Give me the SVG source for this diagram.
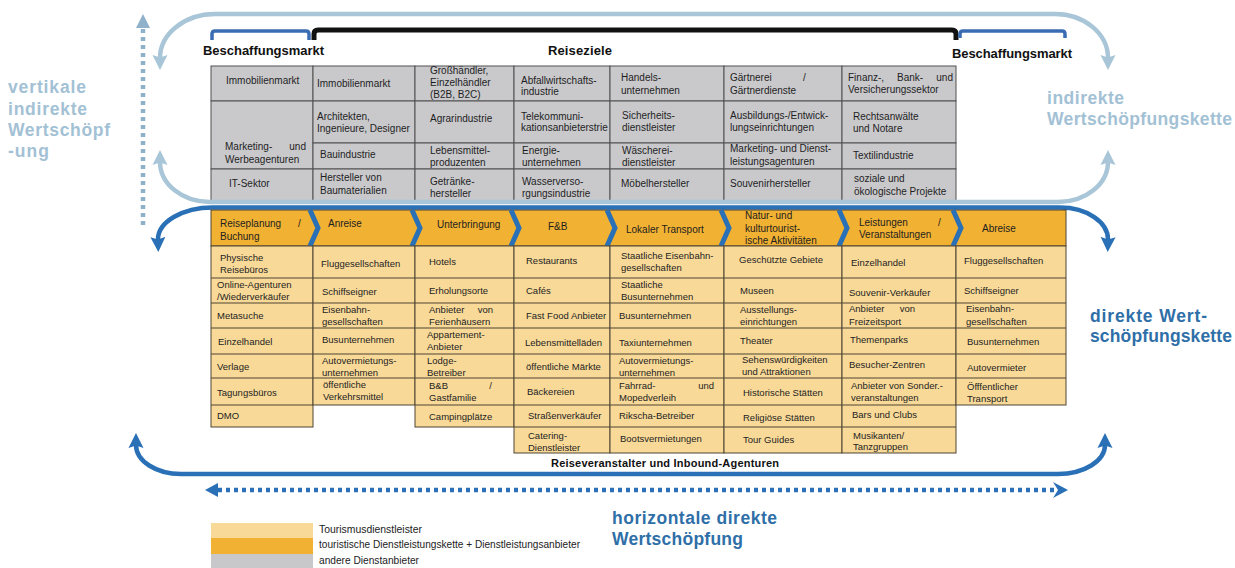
<svg xmlns="http://www.w3.org/2000/svg" width="1235" height="568" viewBox="0 0 1235 568">
<defs>
<style>
.gc{fill:#c9c9cc;stroke:#505050;stroke-width:1}
.lc{fill:#f8d998;stroke:#4e4434;stroke-width:1}
.ln{fill:none;stroke:#4e4434;stroke-width:1}
.t{font-family:"Liberation Sans",Arial,sans-serif;font-size:10px;fill:#1e1e1e}
.o{font-family:"Liberation Sans",Arial,sans-serif;font-size:9.5px;fill:#1e1e1e}
.h{font-family:"Liberation Sans",Arial,sans-serif;font-weight:bold;font-size:13px;fill:#111}
.big{font-family:"Liberation Sans",Arial,sans-serif;font-weight:bold;font-size:17.5px}
.lb{fill:#a3c1d5}
.db{fill:#2f6fa8}
.e{text-anchor:end}
.lbl{fill:none;stroke:#a9c5d8;stroke-width:4.5}
.dbl{fill:none;stroke:#2a70b6;stroke-width:4.5}
.chev{fill:none;stroke:#2a70b6;stroke-width:5;stroke-linejoin:miter}
.lg{font-family:"Liberation Sans",Arial,sans-serif;font-size:11px;fill:#222}
</style>
<marker id="aL" markerUnits="userSpaceOnUse" markerWidth="16" markerHeight="16" viewBox="0 0 16 16" refX="3" refY="8" orient="auto-start-reverse"><path d="M0,0.5 L15,8 L0,15.5 L2.5,8 Z" fill="#a9c5d8"/></marker>
<marker id="aD" markerUnits="userSpaceOnUse" markerWidth="16" markerHeight="16" viewBox="0 0 16 16" refX="3" refY="8" orient="auto-start-reverse"><path d="M0,0.5 L15,8 L0,15.5 L2.5,8 Z" fill="#2a70b6"/></marker>
</defs>
<rect width="1235" height="568" fill="#ffffff"/>

<!-- gray table: Beschaffungsmarkt / Reiseziele -->
<g id="gray-col1">
<rect class="gc" x="211" y="66" width="102" height="35"/>
<rect class="gc" x="211" y="101" width="102" height="68"/>
<rect class="gc" x="211" y="169" width="102" height="34"/>
<text class="t" x="226" y="84">Immobilienmarkt</text>
<text class="t" x="225" y="150">Marketing-</text><text class="t e" x="306" y="150">und</text>
<text class="t" x="225" y="163">Werbeagenturen</text>
<text class="t" x="229" y="187">IT-Sektor</text>
</g>
<g id="gray-col2">
<rect class="gc" x="313" y="66" width="102" height="35"/>
<rect class="gc" x="313" y="101" width="102" height="42"/>
<rect class="gc" x="313" y="143" width="102" height="26"/>
<rect class="gc" x="313" y="169" width="102" height="34"/>
<text class="t" x="317" y="87">Immobilienmarkt</text>
<text class="t" x="317" y="120">Architekten,</text>
<text class="t" x="317" y="131.5">Ingenieure, Designer</text>
<text class="t" x="320" y="158">Bauindustrie</text>
<text class="t" x="320" y="181">Hersteller von</text>
<text class="t" x="320" y="193.5">Baumaterialien</text>
</g>
<g id="gray-col3">
<rect class="gc" x="415" y="66" width="99" height="35"/>
<rect class="gc" x="415" y="101" width="99" height="42"/>
<rect class="gc" x="415" y="143" width="99" height="26"/>
<rect class="gc" x="415" y="169" width="99" height="34"/>
<text class="t" x="430" y="73.5">Großhändler,</text>
<text class="t" x="430" y="85.5">Einzelhändler</text>
<text class="t" x="430" y="97.5">(B2B, B2C)</text>
<text class="t" x="430" y="122">Agrarindustrie</text>
<text class="t" x="430" y="153.5">Lebensmittel-</text>
<text class="t" x="430" y="165.5">produzenten</text>
<text class="t" x="430" y="185">Getränke-</text>
<text class="t" x="430" y="196.5">hersteller</text>
</g>
<g id="gray-col4">
<rect class="gc" x="514" y="66" width="96" height="35"/>
<rect class="gc" x="514" y="101" width="96" height="42"/>
<rect class="gc" x="514" y="143" width="96" height="26"/>
<rect class="gc" x="514" y="169" width="96" height="34"/>
<text class="t" x="521" y="83.5">Abfallwirtschafts-</text>
<text class="t" x="521" y="94.5">industrie</text>
<text class="t" x="521" y="119.5">Telekommuni-</text>
<text class="t" x="521" y="131">kationsanbieterstrie</text>
<text class="t" x="522" y="153.5">Energie-</text>
<text class="t" x="522" y="165.5">unternehmen</text>
<text class="t" x="522" y="185">Wasserverso-</text>
<text class="t" x="522" y="196.5">rgungsindustrie</text>
</g>
<g id="gray-col5">
<rect class="gc" x="610" y="66" width="114" height="35"/>
<rect class="gc" x="610" y="101" width="114" height="42"/>
<rect class="gc" x="610" y="143" width="114" height="26"/>
<rect class="gc" x="610" y="169" width="114" height="34"/>
<text class="t" x="621" y="81">Handels-</text>
<text class="t" x="621" y="93.5">unternehmen</text>
<text class="t" x="622" y="118.5">Sicherheits-</text>
<text class="t" x="622" y="130.5">dienstleister</text>
<text class="t" x="622" y="153.5">Wäscherei-</text>
<text class="t" x="622" y="166">dienstleister</text>
<text class="t" x="621" y="187">Möbelhersteller</text>
</g>
<g id="gray-col6">
<rect class="gc" x="724" y="66" width="118" height="35"/>
<rect class="gc" x="724" y="101" width="118" height="42"/>
<rect class="gc" x="724" y="143" width="118" height="26"/>
<rect class="gc" x="724" y="169" width="118" height="34"/>
<text class="t" x="730" y="81">Gärtnerei</text><text class="t" x="803" y="81">/</text>
<text class="t" x="730" y="93.5">Gärtnerdienste</text>
<text class="t" x="730" y="118.5">Ausbildungs-/Entwick-</text>
<text class="t" x="730" y="131">lungseinrichtungen</text>
<text class="t" x="730" y="152">Marketing- und Dienst-</text>
<text class="t" x="730" y="164.5">leistungsagenturen</text>
<text class="t" x="730" y="187">Souvenirhersteller</text>
</g>
<g id="gray-col7">
<rect class="gc" x="842" y="66" width="114" height="35"/>
<rect class="gc" x="842" y="101" width="114" height="42"/>
<rect class="gc" x="842" y="143" width="114" height="26"/>
<rect class="gc" x="842" y="169" width="114" height="34"/>
<text class="t" x="848" y="81">Finanz-,</text><text class="t" x="897" y="81">Bank-</text><text class="t e" x="953" y="81">und</text>
<text class="t" x="848" y="93">Versicherungssektor</text>
<text class="t" x="853" y="120">Rechtsanwälte</text>
<text class="t" x="853" y="132">und Notare</text>
<text class="t" x="853" y="159">Textilindustrie</text>
<text class="t" x="854" y="182">soziale und</text>
<text class="t" x="854" y="194.5">ökologische Projekte</text>
</g>

<!-- headers and brackets -->
<g id="header-beschaffung-left">
<path d="M212,40 V34 Q212,31 215,31 H306 Q309,31 309,34 V40" fill="none" stroke="#3a6cb4" stroke-width="3.5"/>
<text class="h" x="203" y="55" textLength="121">Beschaffungsmarkt</text>
</g>
<g id="header-reiseziele">
<path d="M314,40 V34 Q314,30 318,30 H952 Q956,30 956,34 V40" fill="none" stroke="#111111" stroke-width="5"/>
<text class="h" x="548" y="55" textLength="64">Reiseziele</text>
</g>
<g id="header-beschaffung-right">
<path d="M960,38 V34 Q960,31 963,31 H1062 Q1065,31 1065,34 V38" fill="none" stroke="#3a6cb4" stroke-width="3.5"/>
<text class="h" x="952" y="58" textLength="120">Beschaffungsmarkt</text>
</g>

<!-- side labels -->
<g id="label-vertikal">
<text class="big lb" x="8" y="93" textLength="78">vertikale</text>
<text class="big lb" x="8" y="114.5" textLength="79">indirekte</text>
<text class="big lb" x="8" y="136" textLength="102">Wertschöpf</text>
<text class="big lb" x="8" y="157" textLength="41">-ung</text>
</g>
<g id="label-indirekt">
<text class="big lb" x="1047" y="104" textLength="77">indirekte</text>
<text class="big lb" x="1047" y="125" textLength="185">Wertschöpfungskette</text>
</g>
<g id="label-direkt">
<text class="big db" x="1090" y="322" textLength="117">direkte Wert-</text>
<text class="big db" x="1090" y="342" textLength="142">schöpfungskette</text>
</g>
<g id="label-horizontal">
<text class="big db" x="612" y="524" textLength="165">horizontale direkte</text>
<text class="big db" x="612" y="545" textLength="131">Wertschöpfung</text>
</g>

<!-- connectors -->
<g id="connectors">
<path class="lbl" d="M160,58 A55,44 0 0 1 215,14 H1055 A53,44 0 0 1 1108,58" marker-start="url(#aL)" marker-end="url(#aL)"/>
<path class="lbl" d="M160,162 A50,40 0 0 0 210,202 H1058 A50,40 0 0 0 1108,162" marker-start="url(#aL)" marker-end="url(#aL)"/>
<path class="dbl" d="M158,240 A55,32 0 0 1 213,207.5 H1060 A48,32 0 0 1 1108,240" marker-start="url(#aD)" marker-end="url(#aD)"/>
<path class="dbl" d="M136,445 A45,29 0 0 0 181,474 H1058 A47,29 0 0 0 1105,445" marker-start="url(#aD)" marker-end="url(#aD)"/>
<line x1="143" y1="225" x2="143" y2="29" stroke="#8fb1c9" stroke-width="4.5" stroke-dasharray="4 4"/>
<polygon points="143,14 136,28 150,28" fill="#8fb1c9"/>
<line x1="218" y1="490" x2="1054" y2="490" stroke="#2a70b6" stroke-width="4.5" stroke-dasharray="4 4"/>
<polygon points="205,490 218,483 218,497" fill="#2a70b6"/>
<polygon points="1053,482 1068,490 1053,498 1058,490" fill="#2a70b6"/>
</g>

<!-- value chain row -->
<g id="chain">
<rect x="211" y="210" width="855" height="36" fill="#f1b133" stroke="#4e4434" stroke-width="1"/>
<polyline class="chev" points="310,210 318,228 310,246"/>
<polyline class="chev" points="412,210 420,228 412,246"/>
<polyline class="chev" points="511,210 519,228 511,246"/>
<polyline class="chev" points="607,210 615,228 607,246"/>
<polyline class="chev" points="721,210 729,228 721,246"/>
<polyline class="chev" points="839,210 847,228 839,246"/>
<polyline class="chev" points="953,210 961,228 953,246"/>
<text class="t" x="220" y="227">Reiseplanung</text><text class="t" x="298" y="227">/</text>
<text class="t" x="220" y="239.5">Buchung</text>
<text class="t" x="328" y="227">Anreise</text>
<text class="t" x="437" y="228">Unterbringung</text>
<text class="t" x="548" y="230">F&amp;B</text>
<text class="t" x="626" y="233">Lokaler Transport</text>
<text class="t" x="745" y="219">Natur- und</text>
<text class="t" x="745" y="232">kulturtourist-</text>
<text class="t" x="745" y="244">ische Aktivitäten</text>
<text class="t" x="859" y="226">Leistungen</text><text class="t" x="938" y="226">/</text>
<text class="t" x="859" y="238">Veranstaltungen</text>
<text class="t" x="982" y="232">Abreise</text>
</g>

<!-- service provider columns -->
<g id="col-buchung">
<rect class="lc" x="211" y="246" width="102" height="181"/>
<path class="ln" d="M211,278H313M211,303H313M211,328H313M211,354H313M211,378H313M211,405H313"/>
<text class="o" x="220" y="260.5">Physische</text>
<text class="o" x="220" y="272.5">Reisebüros</text>
<text class="o" x="217" y="287.5">Online-Agenturen</text>
<text class="o" x="217" y="299.5">/Wiederverkäufer</text>
<text class="o" x="217" y="318.5">Metasuche</text>
<text class="o" x="218" y="344.5">Einzelhandel</text>
<text class="o" x="217" y="369.5">Verlage</text>
<text class="o" x="217" y="395.5">Tagungsbüros</text>
<text class="o" x="217" y="418.5">DMO</text>
</g>
<g id="col-anreise">
<rect class="lc" x="313" y="246" width="102" height="159"/>
<path class="ln" d="M313,278H415M313,303H415M313,328H415M313,354H415M313,378H415"/>
<text class="o" x="321" y="267">Fluggesellschaften</text>
<text class="o" x="322" y="295">Schiffseigner</text>
<text class="o" x="322" y="312.5">Eisenbahn-</text>
<text class="o" x="322" y="324.5">gesellschaften</text>
<text class="o" x="322" y="343">Busunternehmen</text>
<text class="o" x="322" y="363.5">Autovermietungs-</text>
<text class="o" x="322" y="375.5">unternehmen</text>
<text class="o" x="323" y="387.5">öffentliche</text>
<text class="o" x="323" y="399.5">Verkehrsmittel</text>
</g>
<g id="col-unterbringung">
<rect class="lc" x="415" y="246" width="99" height="181"/>
<path class="ln" d="M415,278H514M415,303H514M415,328H514M415,354H514M415,378H514M415,405H514"/>
<text class="o" x="429" y="265">Hotels</text>
<text class="o" x="429" y="294">Erholungsorte</text>
<text class="o" x="429" y="313">Anbieter</text><text class="o e" x="493" y="313">von</text>
<text class="o" x="429" y="325">Ferienhäusern</text>
<text class="o" x="427" y="338">Appartement-</text>
<text class="o" x="427" y="350">Anbieter</text>
<text class="o" x="427" y="363.5">Lodge-</text>
<text class="o" x="427" y="375.5">Betreiber</text>
<text class="o" x="429" y="388.5">B&amp;B</text><text class="o e" x="492" y="388.5">/</text>
<text class="o" x="429" y="400.5">Gastfamilie</text>
<text class="o" x="429" y="419.5">Campingplätze</text>
</g>
<g id="col-fb">
<rect class="lc" x="514" y="246" width="96" height="207"/>
<path class="ln" d="M514,278H610M514,303H610M514,328H610M514,354H610M514,378H610M514,405H610M514,427H610"/>
<text class="o" x="526" y="264">Restaurants</text>
<text class="o" x="526" y="293.5">Cafés</text>
<text class="o" x="526" y="318.5">Fast Food Anbieter</text>
<text class="o" x="525" y="346">Lebensmittelläden</text>
<text class="o" x="526" y="370">öffentliche Märkte</text>
<text class="o" x="527" y="395">Bäckereien</text>
<text class="o" x="528" y="418.5">Straßenverkäufer</text>
<text class="o" x="528" y="438.5">Catering-</text>
<text class="o" x="528" y="450.5">Dienstleister</text>
</g>
<g id="col-transport">
<rect class="lc" x="610" y="246" width="114" height="207"/>
<path class="ln" d="M610,278H724M610,303H724M610,328H724M610,354H724M610,378H724M610,405H724M610,427H724"/>
<text class="o" x="621" y="259">Staatliche Eisenbahn-</text>
<text class="o" x="621" y="271">gesellschaften</text>
<text class="o" x="621" y="288">Staatliche</text>
<text class="o" x="621" y="300">Busunternehmen</text>
<text class="o" x="619" y="318.5">Busunternehmen</text>
<text class="o" x="619" y="346">Taxiunternehmen</text>
<text class="o" x="619" y="363.5">Autovermietungs-</text>
<text class="o" x="619" y="375.5">unternehmen</text>
<text class="o" x="619" y="389">Fahrrad-</text><text class="o e" x="714" y="389">und</text>
<text class="o" x="619" y="401">Mopedverleih</text>
<text class="o" x="619" y="419">Rikscha-Betreiber</text>
<text class="o" x="620" y="441.5">Bootsvermietungen</text>
</g>
<g id="col-natur">
<rect class="lc" x="724" y="246" width="118" height="207"/>
<path class="ln" d="M724,278H842M724,303H842M724,328H842M724,354H842M724,378H842M724,405H842M724,427H842"/>
<text class="o" x="739" y="262.5">Geschützte Gebiete</text>
<text class="o" x="740" y="293.5">Museen</text>
<text class="o" x="740" y="312.5">Ausstellungs-</text>
<text class="o" x="740" y="324.5">einrichtungen</text>
<text class="o" x="740" y="344">Theater</text>
<text class="o" x="742" y="362.5">Sehenswürdigkeiten</text>
<text class="o" x="742" y="374.5">und Attraktionen</text>
<text class="o" x="743" y="395.5">Historische Stätten</text>
<text class="o" x="743" y="420.5">Religiöse Stätten</text>
<text class="o" x="743" y="442.5">Tour Guides</text>
</g>
<g id="col-leistungen">
<rect class="lc" x="842" y="246" width="114" height="207"/>
<path class="ln" d="M842,278H956M842,303H956M842,328H956M842,354H956M842,378H956M842,405H956M842,427H956"/>
<text class="o" x="851" y="265.5">Einzelhandel</text>
<text class="o" x="849" y="295.5">Souvenir-Verkäufer</text>
<text class="o" x="849" y="312">Anbieter</text><text class="o e" x="915" y="312">von</text>
<text class="o" x="849" y="324.5">Freizeitsport</text>
<text class="o" x="850" y="342.5">Themenparks</text>
<text class="o" x="849" y="367.5">Besucher-Zentren</text>
<text class="o" x="851" y="389">Anbieter von Sonder.-</text>
<text class="o" x="851" y="401">veranstaltungen</text>
<text class="o" x="852" y="418">Bars und Clubs</text>
<text class="o" x="853" y="438.5">Musikanten/</text>
<text class="o" x="853" y="450">Tanzgruppen</text>
</g>
<g id="col-abreise">
<rect class="lc" x="956" y="246" width="110" height="159"/>
<path class="ln" d="M956,278H1066M956,303H1066M956,328H1066M956,354H1066M956,378H1066"/>
<text class="o" x="964" y="264">Fluggesellschaften</text>
<text class="o" x="964" y="293.5">Schiffseigner</text>
<text class="o" x="966" y="312">Eisenbahn-</text>
<text class="o" x="966" y="324.5">gesellschaften</text>
<text class="o" x="967" y="345">Busunternehmen</text>
<text class="o" x="967" y="370.5">Autovermieter</text>
<text class="o" x="967" y="390">Öfffentlicher</text>
<text class="o" x="967" y="402">Transport</text>
</g>

<g id="label-reiseveranstalter">
<text x="551" y="467" textLength="228" style="font-family:'Liberation Sans',Arial,sans-serif;font-weight:bold;font-size:11px;fill:#111">Reiseveranstalter und Inbound-Agenturen</text>
</g>

<!-- legend -->
<g id="legend">
<rect x="211" y="523" width="102" height="15" fill="#f8d998"/>
<rect x="211" y="538" width="102" height="16" fill="#f1b133"/>
<rect x="211" y="554" width="102" height="14" fill="#c8c8ca"/>
<text class="lg" x="319" y="533" textLength="103" lengthAdjust="spacingAndGlyphs">Tourismusdienstleister</text>
<text class="lg" x="319" y="548" textLength="261" lengthAdjust="spacingAndGlyphs">touristische Dienstleistungskette + Dienstleistungsanbieter</text>
<text class="lg" x="319" y="564" textLength="100" lengthAdjust="spacingAndGlyphs">andere Dienstanbieter</text>
</g>
</svg>
